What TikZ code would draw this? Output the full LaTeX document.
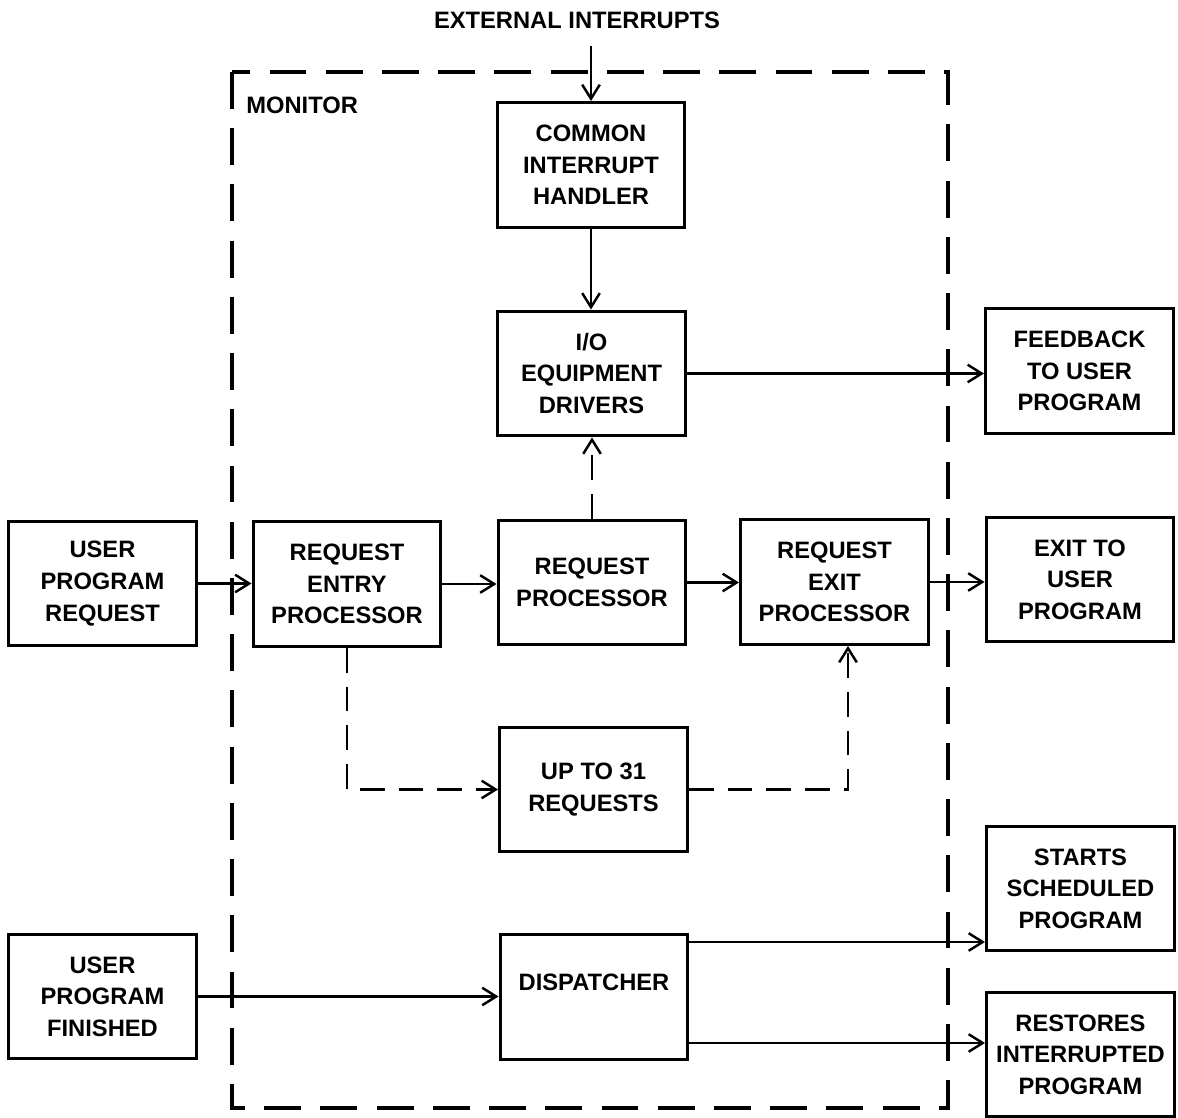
\documentclass[tikz,border=0pt]{standalone}
\usepackage{fontspec}
\setmainfont{Liberation Sans}
\usetikzlibrary{arrows.meta}
\begin{document}
\begin{tikzpicture}[x=0.02cm,y=-0.02cm,
  box/.style={draw, line width=1.7pt, minimum width=3.76cm, minimum height=2.5cm,
    align=center, font=\fontsize{13.5}{18}\selectfont\bfseries, inner sep=2pt},
  lbl/.style={font=\fontsize{13.5}{18}\selectfont\bfseries, inner sep=0pt},
  conn/.style={line width=1.4pt, -{Straight Barb[length=8pt,width=10pt,line width=1.4pt]}},
  dconn/.style={conn, dash pattern=on 14pt off 8pt},
  monitorbox/.style={line width=2pt, dash pattern=on 21pt off 11pt}]
\useasboundingbox (0,0) rectangle (1178,1118);
% monitor frame
\draw[monitorbox] (232,72) rectangle (948,1108);
\node[lbl, anchor=west] (mon) at (246,105) {MONITOR};
\node[lbl] (ext) at (577,20) {EXTERNAL INTERRUPTS};
\coordinate (exttop) at (591,46);
% boxes
\node[box] (cih) at (591,165) {COMMON\\INTERRUPT\\HANDLER};
\node[box] (io) at (591.5,373.5) {I/O\\EQUIPMENT\\DRIVERS};
\node[box] (fb) at (1079.5,371) {FEEDBACK\\TO USER\\PROGRAM};
\node[box] (upr) at (102.5,583.5) {USER\\PROGRAM\\REQUEST};
\node[box] (rep) at (347,584) {REQUEST\\ENTRY\\PROCESSOR};
\node[box] (rp) at (592,582.5) {REQUEST\\PROCESSOR};
\node[box] (rxp) at (834.5,582) {REQUEST\\EXIT\\PROCESSOR};
\node[box] (exit) at (1080,579.5) {EXIT TO\\USER\\PROGRAM};
\node[box] (up31) at (593.5,789.5) {UP TO 31\\REQUESTS};
\node[box] (starts) at (1080.5,888.5) {STARTS\\SCHEDULED\\PROGRAM};
\node[box] (upf) at (102.5,996.5) {USER\\PROGRAM\\FINISHED};
\node[box, text depth=0.6cm] (disp) at (594,997) {DISPATCHER};
\node[box] (rest) at (1080.5,1054.5) {RESTORES\\INTERRUPTED\\PROGRAM};
% connectors
\draw[conn] (exttop) -- (exttop |- cih.north);
\draw[conn] (cih.south) -- (cih.south |- io.north);
\draw[conn] (io.east) -- (io.east -| fb.west);
\draw[dconn] (rp.north) -- (rp.north |- io.south);
\draw[conn] (upr.east) -- (upr.east -| rep.west);
\draw[conn] (rep.east) -- (rep.east -| rp.west);
\draw[conn] (rp.east) -- (rp.east -| rxp.west);
\draw[conn] (rxp.east) -- (rxp.east -| exit.west);
\draw[dconn] (rep.south) |- (up31.west);
\draw[dconn] (up31.east) -| ([xshift=0.27cm]rxp.south);
\draw[conn] (upf.east) -- (upf.east -| disp.west);
\draw[conn] ([yshift=1.1cm]disp.east) -- ([yshift=1.1cm]disp.east -| starts.west);
\draw[conn] ([yshift=-0.92cm]disp.east) -- ([yshift=-0.92cm]disp.east -| rest.west);
\end{tikzpicture}
\end{document}
